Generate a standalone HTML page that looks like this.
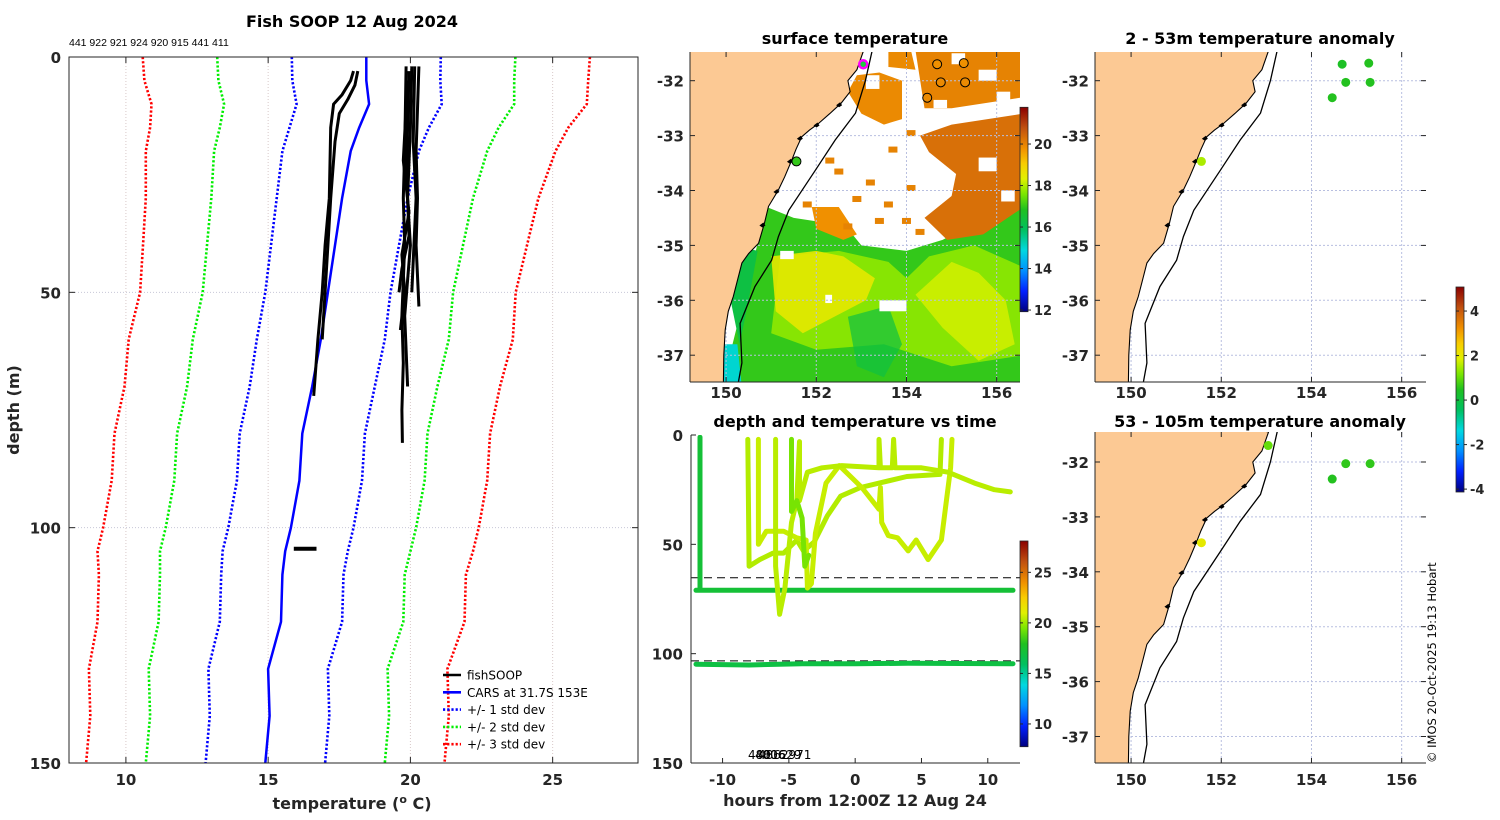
<!DOCTYPE html>
<html><head><meta charset="utf-8"><title>Fish SOOP 12 Aug 2024</title>
<style>
html,body{margin:0;padding:0;background:#fff;}
svg{display:block;font-family:"DejaVu Sans","Liberation Sans",sans-serif;}
.tk{font-size:15px;font-weight:bold;fill:#262626;}
.ttl{font-size:16px;font-weight:bold;fill:#000;}
.lab{font-size:16px;font-weight:bold;fill:#262626;}
.cb{font-size:13px;font-weight:bold;fill:#262626;}
</style></head>
<body>
<svg id="fig" width="1500" height="820" viewBox="0 0 1500 820">
<defs>
<clipPath id="clipMid"><rect x="690" y="52" width="330" height="330"/></clipPath>
<clipPath id="clipR1"><rect x="1095" y="52" width="331" height="330"/></clipPath>
<clipPath id="clipR2"><rect x="1095" y="432" width="331" height="331"/></clipPath>
<clipPath id="clipL"><rect x="69" y="57" width="569" height="706"/></clipPath>
<clipPath id="clipDT"><rect x="691" y="435" width="329" height="328"/></clipPath>
</defs>
<g id="root"></g>
</svg>
<script>
// ---------------- DATA ----------------
const carsDepth = [0,5,10,15,20,30,40,50,60,70,80,90,100,105,110,120,130,140,150];
const carsMean  = [18.45,18.45,18.55,18.2,17.9,17.6,17.35,17.1,16.85,16.55,16.2,16.1,15.8,15.6,15.5,15.45,15.0,15.05,14.9];
const carsStd   = [2.62,2.6,2.55,2.45,2.4,2.3,2.25,2.2,2.25,2.2,2.2,2.2,2.2,2.2,2.15,2.15,2.1,2.1,2.1];
const fishTemp1 = [18.0,17.9,17.6,17.3,17.2,17.15,17.0,16.9,16.75,16.6];
const fishDepth1= [3,5,8,10,15,30,40,50,60,72];
const fishTemp2 = [18.15,18.05,17.8,17.5,17.35,17.2,17.05,16.9];
const fishDepth2= [3,6,9,12,18,30,45,60];
const fishTemp3 = [19.85,19.8,19.75,19.8,19.7,19.75,19.7,19.72];
const fishDepth3= [2,20,30,40,55,65,75,82];
const fishTemp4 = [20.05,20.0,19.9,19.95,19.7,19.6];
const fishDepth4= [2,15,30,38,45,50];
const fishTemp5 = [20.3,20.2,20.25,20.2,20.3];
const fishDepth5= [2,20,30,40,53];
const fishTemp6 = [19.95,19.9,19.85,20.0,19.8,19.9];
const fishDepth6= [3,15,25,40,55,70];
const fishTemp7 = [20.15,20.1,20.2,20.05];
const fishDepth7= [2,18,30,50];
const fishTemp8 = [15.9,16.7];
const fishDepth8= [104.5,104.5];
const fishTemp9 = [19.9,19.75,19.95,19.7,19.8,19.65];
const fishDepth9= [5,22,33,42,50,58];
const xTicks = [10,15,20,25];
const yTicks = [0,50,100,150];
const headerIds = "441 922 921 924 920 915 441 411";

const stnLon = [153.04,154.68,155.27,154.76,155.30,154.46,151.56];
const stnLat = [-31.70,-31.70,-31.68,-32.03,-32.03,-32.31,-33.47];
const anomShallow = [null,0.4,0.5,0.5,0.5,0.5,1.5];
const anomDeep    = [1.0,null,null,0.6,0.6,0.5,2.0];
const stnSST      = [null,19.8,19.8,19.9,19.9,19.9,17.0];

const trk1H = [-11.7,-11.7,-12.0,11.9];
const trk1D = [1,71,71,71];
const trk1T = 17.2;
const trk2H = [-12.0,-8,-4,0,4,8,11.9];
const trk2D = [104.8,105.2,104.6,104.6,104.4,104.5,104.6];
const trk2T = 16.8;
const trk3H = [-8.1,-8.0,-7.2,-6.2,-5.4,-4.4,-3.9,-3.1,-2.1,-1.1,0.4,3.9,6.4,6.5];
const trk3D = [2,60,57,54,54,48,53,49,37,28,24,19,18,2];
const trk3T = 20.3;
const trk4H = [-7.3,-7.3,-6.7,-5.4,-4.4,-3.7,-3.6,-3.3,-3.0,-2.2,-1.2,0.5,1.8,1.9,2.0,2.5,3.2,4.0,4.6,5.5,6.5,7.2,7.3];
const trk4D = [2,50,44,44,47,48,70,68,45,22,14,24,34,24,40,46,47,53,48,57,48,15,2];
const trk4T = 20.6;
const trk5H = [-6.0,-6.0,-5.7,-5.3,-4.8,-4.4,-4.2,-4.2,-3.6,-2.5,-1.0,1.8,1.8,1.9,2.8,2.9,3.0,5.0,7.0,9.0,10.5,11.7];
const trk5D = [2,60,82,70,40,30,3,30,17,15,14,15,2,15,15,2,15,15,17,22,25,26];
const trk5T = 20.4;
const trk6H = [-4.8,-4.8,-4.4,-4.0,-3.8,-3.5];
const trk6D = [2,35,30,38,60,55];
const trk6T = 19.4;
const cruiseDepths = [65.3,103.3];
const dtXTicks = [-10,-5,0,5,10];
const dtYTicks = [0,50,100,150];

const sstTicks = [12,14,16,18,20];
const dtCbTicks = [10,15,20,25];
const anomTicks = [-4,-2,0,2,4];
const lonTicks = [150,152,154,156];
const latTicks = [-32,-33,-34,-35,-36,-37];

const coastLon = [153.05,152.9,152.7,152.75,152.55,152.3,152.05,151.85,151.68,151.55,151.46,151.3,151.16,150.94,150.85,150.72,150.5,150.35,150.16,150.05,149.98,149.95,149.94];
const coastLat = [-31.45,-31.8,-32.0,-32.2,-32.41,-32.6,-32.78,-32.9,-33.02,-33.25,-33.44,-33.75,-33.99,-34.29,-34.6,-34.96,-35.15,-35.32,-35.93,-36.2,-36.54,-37.0,-37.5];
const isoLon = [153.24,153.09,152.87,152.42,151.98,151.39,151.16,151.01,150.64,150.31,150.35,150.27];
const isoLat = [-31.45,-32.0,-32.59,-33.08,-33.63,-34.36,-34.84,-35.27,-35.75,-36.42,-37.14,-37.5];

// ---------------- HELPERS ----------------
const NS = "http://www.w3.org/2000/svg";
const root = document.getElementById('root');
function mk(tag, attrs, parent){
  const e = document.createElementNS(NS, tag);
  for (const k in attrs) e.setAttribute(k, attrs[k]);
  (parent||root).appendChild(e);
  return e;
}
function txt(s, x, y, cls, anchor, parent){
  const e = mk('text', {x:x, y:y, 'class':cls, 'text-anchor':anchor||'middle'}, parent);
  e.textContent = s;
  return e;
}
const cmStops = [[0,[0,0,127]],[0.1,[0,32,255]],[0.2,[0,144,255]],[0.3,[0,216,224]],[0.4,[0,192,96]],[0.5,[32,192,32]],[0.58,[128,232,0]],[0.65,[224,240,0]],[0.72,[248,208,0]],[0.8,[240,144,0]],[0.9,[192,80,16]],[1,[138,0,0]]];
function cmap(f){
  f = Math.max(0, Math.min(1, f));
  for (let i=1;i<cmStops.length;i++){
    if (f <= cmStops[i][0]){
      const a=cmStops[i-1], b=cmStops[i], t=(f-a[0])/(b[0]-a[0]);
      const c=a[1].map((v,j)=>Math.round(v+(b[1][j]-v)*t));
      return 'rgb('+c.join(',')+')';
    }
  }
  return 'rgb(138,0,0)';
}
function gradient(id){
  const defs = document.querySelector('defs');
  const g = mk('linearGradient', {id:id, x1:0, y1:1, x2:0, y2:0}, defs);
  for (let i=0;i<=40;i++){ mk('stop', {offset:(i/40), 'stop-color':cmap(i/40)}, g); }
}
gradient('cmapGrad');

// ---------------- LEFT PROFILE PANEL ----------------
const tMin=8, tMax=28, dMax=150;
const LX0=69, LX1=638, LY0=57, LY1=763;
const tx = T => LX0 + (T-tMin)/(tMax-tMin)*(LX1-LX0);
const dy = d => LY0 + d/dMax*(LY1-LY0);

txt('Fish SOOP 12 Aug 2024', 352, 27, 'ttl');
const hid = txt(headerIds, 69, 46, '', 'start');
hid.setAttribute('style','font-size:10.5px;font-family:"Liberation Sans",sans-serif;fill:#000');



const lp = mk('g', {});
mk('rect', {x:LX0, y:LY0, width:LX1-LX0, height:LY1-LY0, fill:'#fff'}, lp);
const lgrid = mk('g', {'clip-path':'url(#clipL)'}, lp);
xTicks.forEach(t=>{ mk('line',{x1:tx(t),x2:tx(t),y1:LY0,y2:LY1,stroke:'#d8c8c8','stroke-width':1,'stroke-dasharray':'1,2'},lgrid); });
yTicks.slice(1,3).forEach(d=>{ mk('line',{x1:LX0,x2:LX1,y1:dy(d),y2:dy(d),stroke:'#c8c8d8','stroke-width':1,'stroke-dasharray':'1,2'},lgrid); });

const lines = mk('g', {'clip-path':'url(#clipL)'}, lp);
function profLine(temps, depths, color, w, dash, name){
  const pts = temps.map((t,i)=>tx(t).toFixed(1)+','+dy(depths[i]).toFixed(1)).join(' ');
  const e = mk('polyline', {points:pts, fill:'none', stroke:color, 'stroke-width':w, 'stroke-linejoin':'round'}, lines);
  if (dash) e.setAttribute('stroke-dasharray', dash);
  
  
}
const sdCols = ['#0000ff','#00ee00','#ff0000'];
[3,2,1].forEach(k=>{
  profLine(carsMean.map((m,i)=>m-k*carsStd[i]), carsDepth, sdCols[k-1], 2.6, '2.2,2', 'std-minus-'+k);
  profLine(carsMean.map((m,i)=>m+k*carsStd[i]), carsDepth, sdCols[k-1], 2.6, '2.2,2', 'std-plus-'+k);
});
profLine(carsMean, carsDepth, '#0000ff', 2.5, null, 'cars-mean-profile');
[[fishTemp1,fishDepth1],[fishTemp2,fishDepth2],[fishTemp3,fishDepth3],[fishTemp4,fishDepth4],[fishTemp5,fishDepth5],[fishTemp6,fishDepth6],[fishTemp7,fishDepth7],[fishTemp9,fishDepth9]].forEach((p,i)=>{
  profLine(p[0], p[1], '#000', 3, null, 'fishsoop-profile-'+(i+1));
});
profLine(fishTemp8, fishDepth8, '#000', 4, null, 'fishsoop-profile-blob');

mk('rect', {x:LX0, y:LY0, width:LX1-LX0, height:LY1-LY0, fill:'none', stroke:'#262626','stroke-width':1}, lp);
xTicks.forEach(t=>{
  mk('line',{x1:tx(t),x2:tx(t),y1:LY1,y2:LY1-6,stroke:'#262626'},lp);
  mk('line',{x1:tx(t),x2:tx(t),y1:LY0,y2:LY0+6,stroke:'#262626'},lp);
  const e=txt(String(t), tx(t), 785, 'tk', 'middle', lp);
  
  
});
yTicks.forEach(d=>{
  mk('line',{x1:LX0,x2:LX0+6,y1:dy(d),y2:dy(d),stroke:'#262626'},lp);
  mk('line',{x1:LX1,x2:LX1-6,y1:dy(d),y2:dy(d),stroke:'#262626'},lp);
  const e=txt(String(d), 61, dy(d)+6, 'tk', 'end', lp);
  
  
});
const xt = mk('text',{x:352,y:809,'class':'lab','text-anchor':'middle',},lp);
xt.innerHTML = 'temperature (<tspan dy="-6" font-size="11">o</tspan><tspan dy="6"> C)</tspan>';
const yt = txt('depth (m)', 0, 0, 'lab', 'middle', lp);
yt.setAttribute('transform','translate(19,410) rotate(-90)');



const leg = mk('g', {}, lp);
const legItems = [['fishSOOP','#000',null],['CARS at 31.7S 153E','#0000ff',null],['+/- 1 std dev','#0000ff','2.2,2'],['+/- 2 std dev','#00ee00','2.2,2'],['+/- 3 std dev','#ff0000','2.2,2']];
legItems.forEach((it,i)=>{
  const y = 675 + i*17.3;
  const g = mk('g', {}, leg);
  
  
  const l = mk('line',{x1:443,x2:461,y1:y,y2:y,stroke:it[1],'stroke-width':2.6},g);
  if (it[2]) l.setAttribute('stroke-dasharray', it[2]);
  const t = txt(it[0], 467, y+4.5, '', 'start', g);
  t.setAttribute('style','font-size:12px;fill:#000');
});

// ---------------- MAP HELPERS ----------------
const LON0 = 149.2, PXD = 45.1, PYD = 54.9;
function mapProj(x0, yRef){
  return { x: lon => x0 + (lon-LON0)*PXD, y: lat => yRef + (-32-lat)*PYD };
}
function polyPts(P, lons, lats){ return lons.map((l,i)=>P.x(l).toFixed(1)+','+P.y(lats[i]).toFixed(1)).join(' '); }
function drawLand(g, P){
  const pts = polyPts(P, coastLon, coastLat) + ' ' + P.x(148.5)+','+P.y(-38) + ' ' + P.x(148.5)+','+P.y(-31);
  const land = mk('polygon',{points:pts, fill:'#fcc994', stroke:'#000','stroke-width':1.1}, g);
  
  
  coastLon.forEach((l,i)=>{ if (i>3 && i<16 && i%2==0) mk('path',{d:'M'+(P.x(l)-5)+','+(P.y(coastLat[i])+2)+' l4,-3 l2,3 l-3,2z',fill:'#000'},g); });
  const iso = mk('polyline',{points:polyPts(P, isoLon, isoLat), fill:'none', stroke:'#000','stroke-width':1.3}, g);
  
  
}
function drawGrid(g, P, y0, y1, x0, x1){
  lonTicks.forEach(l=>mk('line',{x1:P.x(l),x2:P.x(l),y1:y0,y2:y1,stroke:'#b8bfe0','stroke-width':1,'stroke-dasharray':'2,2'},g));
  latTicks.forEach(l=>mk('line',{x1:x0,x2:x1,y1:P.y(l),y2:P.y(l),stroke:'#b8bfe0','stroke-width':1,'stroke-dasharray':'2,2'},g));
}
function mapAxes(g, P, x0, x1, y0, y1, xLabY){
  mk('line',{x1:x0,x2:x0,y1:y0,y2:y1,stroke:'#262626'},g);
  mk('line',{x1:x0,x2:x1,y1:y1,y2:y1,stroke:'#262626'},g);
  latTicks.forEach(l=>{
    const yy=P.y(l);
    if (yy<y0||yy>y1) return;
    mk('line',{x1:x0,x2:x0+5,y1:yy,y2:yy,stroke:'#262626'},g);
    mk('line',{x1:x1,x2:x1-5,y1:yy,y2:yy,stroke:'#262626'},g);
    const e=txt(String(l), x0-6, yy+6, 'tk', 'end', g);
    
    
  });
  lonTicks.forEach(l=>{
    const xx=P.x(l);
    mk('line',{x1:xx,x2:xx,y1:y1,y2:y1-5,stroke:'#262626'},g);
    mk('line',{x1:xx,x2:xx,y1:y0,y2:y0+5,stroke:'#262626'},g);
    const e=txt(String(l), xx, xLabY, 'tk', 'middle', g);
    
    
  });
}
function colorbar(x, y0, y1, vmin, vmax, ticks, name){
  const g = mk('g', {});
  mk('rect',{x:x,y:y0,width:8,height:y1-y0,fill:'url(#cmapGrad)',stroke:'#262626','stroke-width':0.8},g);
  ticks.forEach(t=>{
    const yy = y1 - (t-vmin)/(vmax-vmin)*(y1-y0);
    mk('line',{x1:x,x2:x+3,y1:yy,y2:yy,stroke:'#262626'},g);
    mk('line',{x1:x+8,x2:x+11,y1:yy,y2:yy,stroke:'#262626'},g);
    txt(String(t), x+14, yy+5, 'cb', 'start', g);
  });
}

// ---------------- SURFACE TEMPERATURE MAP ----------------
const PM = mapProj(690, 80.7);
const sstMin=11.92, sstMax=21.77;
const sc = T => cmap((T-sstMin)/(sstMax-sstMin));
txt('surface temperature', 855, 44, 'ttl');
const gm = mk('g', {});
const gmc = mk('g', {'clip-path':'url(#clipMid)'}, gm);
mk('rect',{x:690,y:52,width:330,height:330,fill:'#fff'},gmc);
function region(lons, lats, T, name, op){
  const e = mk('polygon',{points:polyPts(PM, lons, lats), fill:sc(T)}, gmc);
  if (op) e.setAttribute('opacity', op);
  
  
}
region([150.9,151.5,152.3,152.8,153,154,154.8,155.5,156.6,156.6,149.9],[-34.3,-34.5,-34.6,-34.8,-35.0,-35.1,-34.9,-34.6,-34.3,-37.6,-37.6],17.0,'sst-green-water');
region([151.2,152.5,153.6,154.0,154.5,155.5,156.6,156.6,155.0,153.5,152.0,151.0],[-35.2,-35.1,-35.3,-35.6,-35.2,-35.0,-35.4,-37.0,-37.2,-36.8,-36.9,-36.6],17.8,'sst-lime-water',0.85);
region([151.0,152.0,152.6,153.3,153.1,152.4,151.7,151.1],[-35.2,-35.1,-35.2,-35.6,-36.0,-36.3,-36.6,-36.2],18.5,'sst-warm-patch',0.9);
region([154.2,155.0,155.6,156.2,156.4,155.6,154.8],[-35.9,-35.3,-35.5,-36.0,-36.8,-37.1,-36.5],18.3,'sst-warm-patch-east',0.75);
region([152.7,153.6,153.9,153.5,152.9],[-36.3,-36.1,-36.8,-37.4,-37.2],16.3,'sst-cool-filament',0.7);
region([154.3,155.0,156.6,156.6,155.7,154.9,154.4,155.0,155.1,154.5],[-33.0,-32.8,-32.6,-34.3,-34.8,-34.9,-34.5,-34.1,-33.7,-33.3],20.3,'sst-orange-east');
region([154.2,156.6,156.6,155.0,154.4],[-31.45,-31.45,-32.3,-32.5,-32.5],20.0,'sst-orange-north');
region([152.9,153.4,153.9,153.9,153.5,153.0,152.7],[-31.9,-31.85,-32.0,-32.7,-32.8,-32.6,-32.2],19.9,'sst-orange-north-west');
region([153.6,154.1,154.2,153.6],[-31.45,-31.45,-31.8,-31.75],19.9,'sst-orange-north-mid');
region([151.9,152.5,152.9,152.6,152.0],[-34.3,-34.3,-34.8,-34.9,-34.7],19.8,'sst-orange-patch');
region([149.9,150.25,150.35,149.9],[-36.8,-36.8,-37.6,-37.6],15.0,'sst-cyan-coast');
region([150.2,150.7,150.5,150.3,150.1],[-35.0,-35.1,-36.0,-36.8,-36.0],16.3,'sst-teal-coast');
[[153.1,-31.9,0.3,0.25],[155.6,-31.8,0.4,0.2],[155.0,-31.5,0.3,0.2],[154.6,-32.35,0.3,0.15],[156.0,-32.2,0.3,0.2],[153.4,-36.0,0.6,0.2],[151.2,-35.1,0.3,0.15],[152.2,-35.9,0.15,0.15],[155.6,-33.4,0.4,0.25],[156.1,-34.0,0.3,0.2]].forEach(r=>{
  mk('rect',{x:PM.x(r[0]),y:PM.y(r[1]),width:r[2]*PXD,height:r[3]*PYD,fill:'#fff'},gmc);
});
[[152.4,-33.6],[153.1,-33.8],[153.5,-34.2],[152.8,-34.1],[154.0,-33.9],[151.7,-34.2],[153.9,-34.5],[152.2,-33.4],[153.3,-34.5],[154.2,-34.7],[153.6,-33.2],[154.0,-32.9],[152.6,-34.6]].forEach(p=>{
  mk('rect',{x:PM.x(p[0]),y:PM.y(p[1]),width:9,height:6,fill:sc(20.0)},gmc);
});
drawGrid(gmc, PM, 52, 382, 690, 1020);
drawLand(gmc, PM);
stnLon.forEach((l,i)=>{
  const c = mk('circle',{cx:PM.x(l),cy:PM.y(stnLat[i]),r:i===0?4:4.5,fill:stnSST[i]===null?'#20c840':sc(stnSST[i]),stroke:i===0?'#ff00ff':'#000','stroke-width':i===0?2.5:1},gmc);
  
  
});
mapAxes(gm, PM, 690, 1020, 52, 382, 398);
colorbar(1020, 107.3, 311.7, sstMin, sstMax, sstTicks, 'sst-colorbar');

// ---------------- ANOMALY MAPS ----------------
const anMin=-4.13, anMax=5.08;
const ac = v => cmap((v-anMin)/(anMax-anMin));
function anomMap(yRef, y0, y1, clip, vals, title, titleY, name, xLabY){
  const P = mapProj(1095, yRef);
  txt(title, 1260, titleY, 'ttl');
  const g = mk('g', {});
  const gc = mk('g', {'clip-path':'url('+clip+')'}, g);
  mk('rect',{x:1095,y:y0,width:331,height:y1-y0,fill:'#fff'},gc);
  drawGrid(gc, P, y0, y1, 1095, 1426);
  drawLand(gc, P);
  stnLon.forEach((l,i)=>{
    if (vals[i]===null) return;
    const c = mk('circle',{cx:P.x(l),cy:P.y(stnLat[i]),r:4.5,fill:ac(vals[i])},gc);
    
    
  });
  mapAxes(g, P, 1095, 1426, y0, y1, xLabY);
}
anomMap(80.7, 52, 382, '#clipR1', anomShallow, '2 - 53m temperature anomaly', 44, 'anomaly-map-shallow', 398);
anomMap(462, 432, 763, '#clipR2', anomDeep, '53 - 105m temperature anomaly', 427, 'anomaly-map-deep', 785);
colorbar(1456, 287, 492, anMin, anMax, anomTicks, 'anomaly-colorbar');

// ---------------- DEPTH-TIME PANEL ----------------
const hMin=-12.38, hMax=12.43, DX0=691, DX1=1020, DY0=435, DY1=763;
const hx = h => DX0 + (h-hMin)/(hMax-hMin)*(DX1-DX0);
const ddy = d => DY0 + d/150*(DY1-DY0);
const dtMin=7.75, dtMax=28.1;
const dc = T => cmap((T-dtMin)/(dtMax-dtMin));
txt('depth and temperature vs time', 855, 427, 'ttl');
const gd = mk('g', {});
const gdc = mk('g', {'clip-path':'url(#clipDT)'}, gd);
cruiseDepths.forEach(d=>{
  const e=mk('line',{x1:DX0,x2:DX1,y1:ddy(d),y2:ddy(d),stroke:'#000','stroke-width':1,'stroke-dasharray':'8,5'},gdc);
  
  
});
[[trk1H,trk1D,trk1T],[trk2H,trk2D,trk2T],[trk3H,trk3D,trk3T],[trk4H,trk4D,trk4T],[trk5H,trk5D,trk5T],[trk6H,trk6D,trk6T]].forEach((t,i)=>{
  const pts = t[0].map((h,j)=>hx(h).toFixed(1)+','+ddy(t[1][j]).toFixed(1)).join(' ');
  const e = mk('polyline',{points:pts,fill:'none',stroke:dc(t[2]),'stroke-width':5,'stroke-linejoin':'round','stroke-linecap':'round'},gdc);
  
  
});
const idl = mk('g',{},gd);
[['4801629',748],['4862971',758],['4806',755]].forEach(p=>{
  const t=txt(p[0], p[1], 759, '', 'start', idl);
  t.setAttribute('style','font-size:12px;fill:#000');
});
mk('line',{x1:DX0,x2:DX0,y1:DY0,y2:DY1,stroke:'#262626'},gd);
mk('line',{x1:DX0,x2:DX1,y1:DY1,y2:DY1,stroke:'#262626'},gd);
dtXTicks.forEach(h=>{
  mk('line',{x1:hx(h),x2:hx(h),y1:DY1,y2:DY1-5,stroke:'#262626'},gd);
  txt(String(h), hx(h), 785, 'tk', 'middle', gd);
});
dtYTicks.forEach(d=>{
  mk('line',{x1:DX0,x2:DX0+5,y1:ddy(d),y2:ddy(d),stroke:'#262626'},gd);
  txt(String(d), 683, ddy(d)+6, 'tk', 'end', gd);
});
const dxt = txt('hours from 12:00Z 12 Aug 24', 855, 806, 'lab', 'middle', gd);


colorbar(1020, 541, 746.7, dtMin, dtMax, dtCbTicks, 'depth-time-colorbar');

const cp = txt('© IMOS 20-Oct-2025 19:13 Hobart', 0, 0, '', 'start');
cp.setAttribute('transform','translate(1436,763) rotate(-90)');
cp.setAttribute('style','font-size:11.5px;fill:#000');


</script>
</body></html>
